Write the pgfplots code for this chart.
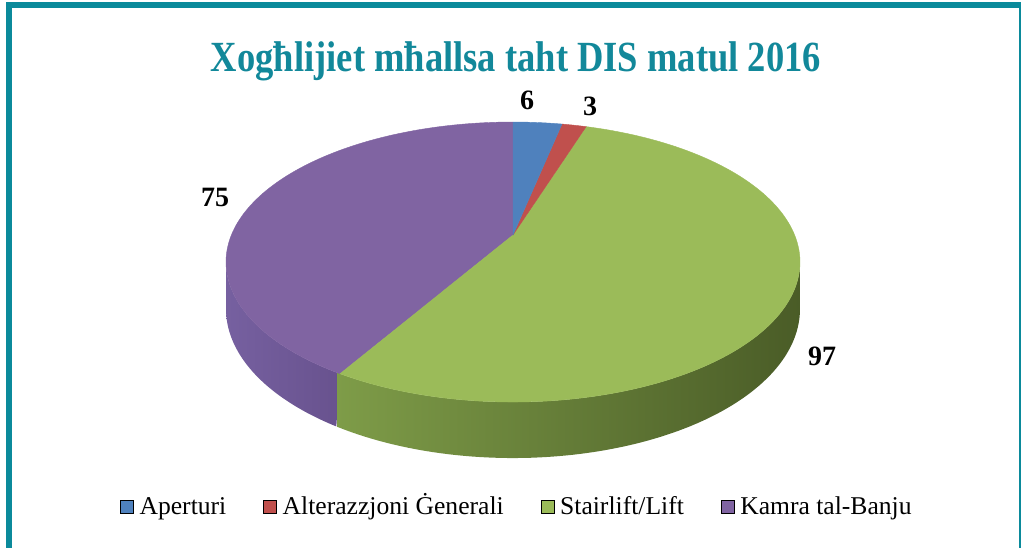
\documentclass[border=0pt]{standalone}
\usepackage{fontspec}
\setmainfont{Liberation Serif}
\newfontfamily\titlefont{Liberation Serif}[FakeStretch=0.85]
\usepackage{pgfplots}
\pgfplotsset{compat=1.18}
\definecolor{frame}{HTML}{0B8A9B}
\definecolor{titlec}{HTML}{12889A}
\definecolor{cA}{HTML}{4F81BD}
\definecolor{cB}{HTML}{C0504D}
\definecolor{cC}{HTML}{9BBB59}
\definecolor{cD}{HTML}{8064A2}
\definecolor{sCl}{HTML}{7E9C48}
\definecolor{sCr}{HTML}{4A5C27}
\definecolor{sDl}{HTML}{7660A0}
\definecolor{sDr}{HTML}{68528E}
% values
\def\vA{6}\def\vB{3}\def\vC{97}\def\vD{75}
\pgfmathsetmacro{\tot}{\vA+\vB+\vC+\vD}
\pgfmathsetmacro{\deg}{360/\tot}
\pgfmathsetmacro{\tZ}{90}
\pgfmathsetmacro{\tA}{\tZ-\deg*\vA}
\pgfmathsetmacro{\tB}{\tA-\deg*\vB}
\pgfmathsetmacro{\tC}{\tB-\deg*\vC}
\pgfmathsetmacro{\tD}{\tC-\deg*\vD}
\pgfmathsetmacro{\tCs}{\tC-0.6}
\begin{document}
\begin{tikzpicture}
\useasboundingbox (0,0) rectangle (1021bp,548bp);
\begin{axis}[
  at={(0,0)}, anchor=south west,
  x=1bp, y=1bp, xmin=0, xmax=1021, ymin=0, ymax=548,
  hide axis, clip=false, scale only axis,
  declare function={
    px(\t)=513+281.6*cos(\t)/(1+0.193*sin(\t));
    py(\t)=313+134.8*sin(\t)/(1+0.193*sin(\t));
    dep(\t)=45.2/(1+0.193*sin(\t));
  },
  legend columns=4,
  legend cell align=left,
  legend image code/.code={\fill[#1] (0bp,1bp) rectangle (13bp,14bp); \path (19bp,0bp);},
  legend style={at={(axis cs:120,43.5)}, anchor=west, draw=none, fill=none,
    inner sep=0pt, nodes={inner sep=0pt, anchor=base},
    font=\fontsize{25.6bp}{30bp}\selectfont,
    /tikz/every even column/.append style={column sep=37bp}},
]
% sides
\addplot[forget plot, draw=none, shading=axis, left color=sDl, right color=sDr, domain=0:2, samples=121]
  ({px(-168.9+(\tC+168.9)*(1-abs(1-x)))},
   {py(-168.9+(\tC+168.9)*(1-abs(1-x))) - (x>1)*dep(-168.9+(\tC+168.9)*(1-abs(1-x)))}) -- cycle;
\addplot[forget plot, draw=none, shading=axis, left color=sCl, right color=sCr, domain=0:2, samples=161]
  ({px(\tCs+(-11.1-\tCs)*(1-abs(1-x)))},
   {py(\tCs+(-11.1-\tCs)*(1-abs(1-x))) - (x>1)*dep(\tCs+(-11.1-\tCs)*(1-abs(1-x)))}) -- cycle;
% top faces
\addplot[forget plot, fill=cD, draw=cD, line width=0.4bp, domain=\tD:\tC, samples=150]
  ({px(x)},{py(x)}) -- (axis cs:513,313) -- cycle;
\addplot[forget plot, fill=cC, draw=cC, line width=0.4bp, domain=\tC:\tB, samples=180]
  ({px(x)},{py(x)}) -- (axis cs:513,313) -- cycle;
\addplot[forget plot, fill=cB, draw=cB, line width=0.4bp, domain=\tB:\tA, samples=20]
  ({px(x)},{py(x)}) -- (axis cs:513,313) -- cycle;
\addplot[forget plot, fill=cA, draw=cA, line width=0.4bp, domain=\tA:\tZ, samples=20]
  ({px(x)},{py(x)}) -- (axis cs:513,313) -- cycle;
% legend
\addlegendimage{fill=cA}\addlegendentry{Aperturi}
\addlegendimage{fill=cB}\addlegendentry{Alterazzjoni Ġenerali}
\addlegendimage{fill=cC}\addlegendentry{Stairlift/Lift}
\addlegendimage{fill=cD}\addlegendentry{Kamra tal-Banju}
% labels
\begin{scope}[every node/.style={font=\fontsize{28bp}{32bp}\selectfont\bfseries, inner sep=0pt}]
\node at (axis cs:527,448) {6};
\node at (axis cs:590,442) {3};
\node at (axis cs:822,192) {97};
\node at (axis cs:215,351) {75};
\end{scope}
\node[anchor=base, inner sep=0pt, text=titlec, font=\titlefont\fontsize{43bp}{50bp}\selectfont\bfseries] at (axis cs:516,476) {Xogħlijiet mħallsa taht DIS matul 2016};
\end{axis}
\fill[frame] (6bp,-5bp) rectangle (12bp,545.5bp);
\fill[frame] (6bp,540bp) rectangle (1025bp,545.5bp);
\fill[frame] (1018.5bp,-5bp) rectangle (1025bp,545.5bp);
\end{tikzpicture}
\end{document}
